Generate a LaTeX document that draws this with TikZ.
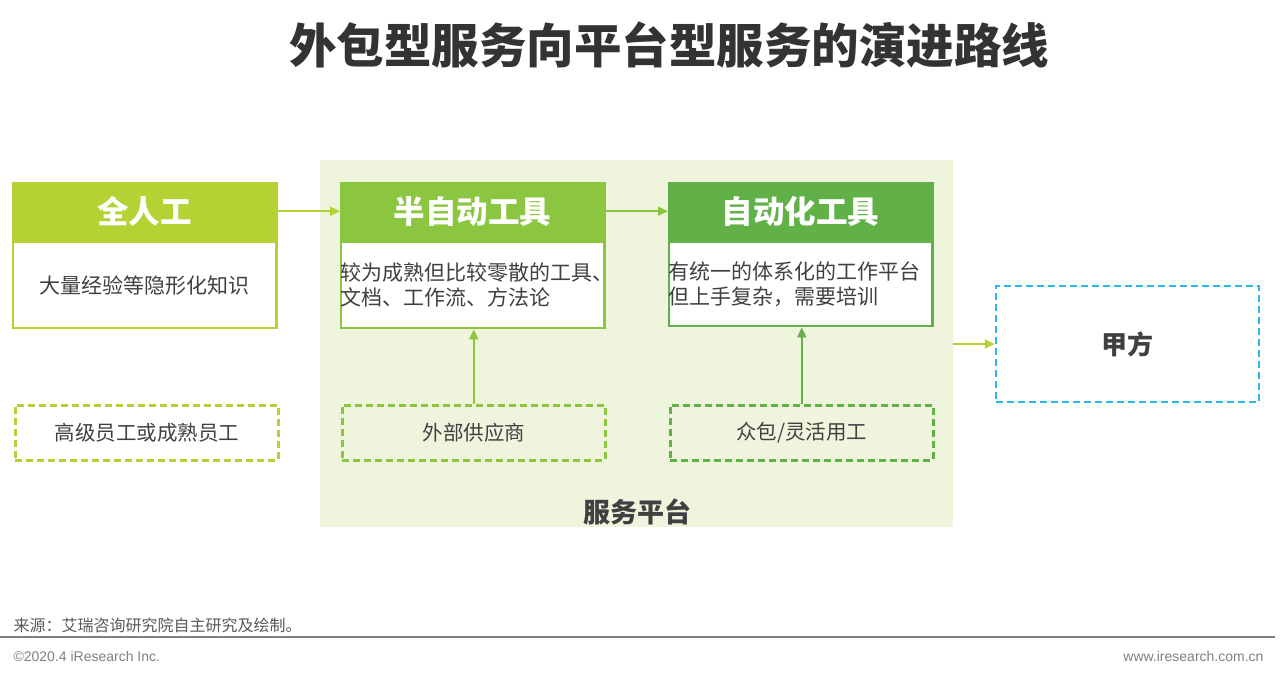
\documentclass[tikz,border=0pt]{standalone}
\usepackage{fontspec}
\setmainfont{Noto Sans CJK SC}
\newfontfamily\latinfont{Liberation Sans}
\usetikzlibrary{arrows.meta, positioning}
\definecolor{lime}{HTML}{B3D234}
\definecolor{leaf}{HTML}{8CC540}
\definecolor{grass}{HTML}{62B148}
\definecolor{platbg}{HTML}{EFF5DD}
\definecolor{sky}{HTML}{2CB8E5}
\definecolor{ink}{HTML}{404040}
\definecolor{titleink}{HTML}{333333}
\definecolor{srcgray}{HTML}{595959}
\definecolor{footgray}{HTML}{7F7F7F}

\begin{document}
\begin{tikzpicture}[
  x=1pt, y=-1pt,
  head/.style={fill=#1, draw=#1, minimum width=265pt, minimum height=58pt,
               inner sep=0pt, font=\fontsize{31.5}{34}\selectfont\bfseries, text=white},
  body/.style={draw=#1, line width=2.5pt, fill=white, minimum width=263.5pt,
               minimum height=86pt, inner sep=0pt,
               font=\fontsize{21}{25}\selectfont, text=ink, align=center},
  bodyleft/.style={body=#1, text width=263.5pt, align=left},
  pool/.style={draw=#1, line width=2.5pt, dash pattern=on 7pt off 4pt,
               minimum width=263pt, minimum height=55pt, inner sep=0pt,
               font=\fontsize{20.5}{24}\selectfont, text=ink},
  arr/.style={-{Triangle[length=10pt, width=9pt]}, draw=#1, line width=1.8pt}
]
  \useasboundingbox (0,0) rectangle (1280,680);

  % Title
  \node[font=\fontsize{47.5}{50}\selectfont\bfseries, text=titleink] (title) at (669,45)
    {外包型服务向平台型服务的演进路线};

  % Service platform
  \node[fill=platbg, minimum width=633pt, minimum height=367pt, inner sep=0pt]
    (plat) at (636.5,343.5) {};
  \node[font=\fontsize{27}{30}\selectfont\bfseries, text=ink] (platlbl) at (637,512)
    {服务平台};

  % Stages
  \node[head=lime, anchor=north west] (manual) at (12,182) {全人工};
  \node[body=lime, below=0.5pt of manual] (manualtxt) {大量经验等隐形化知识};
  \node[head=leaf, anchor=north west] (semi) at (340,182) {半自动工具};
  \node[bodyleft=leaf, below=0.5pt of semi] (semitxt)
    {较为成熟但比较零散的工具、\\文档、工作流、方法论};
  \node[head=grass, anchor=north west] (auto) at (668,182) {自动化工具};
  \node[bodyleft=grass, below=0.5pt of auto, minimum height=84pt] (autotxt)
    {有统一的体系化的工作平台\\但上手复杂，需要培训};

  % Workforce
  \node[pool=lime, anchor=north west] (staff) at (14,404) {高级员工或成熟员工};
  \node[pool=leaf, anchor=north west] (vendor) at (341,404) {外部供应商};
  \node[pool=grass, anchor=north west] (crowd) at (669,404) {众包/灵活用工};

  % Client
  \node[draw=sky, line width=2.5pt, dash pattern=on 7pt off 4pt,
        minimum width=263pt, minimum height=116pt,
        font=\fontsize{26}{28}\selectfont\bfseries, text=ink]
    (client) at (1127.5,344) {甲方};

  \draw[arr=lime] (manual.east) -- (semi.west);
  \draw[arr=leaf] (semi.east) -- (auto.west);
  \draw[arr=leaf] (vendor.north) -- (vendor.north |- semitxt.south);
  \draw[arr=grass] (crowd.north) -- (crowd.north |- autotxt.south);
  \draw[arr=lime] (plat.east |- client.west) -- (client.west);

  % Footer
  \node[anchor=base west, font=\fontsize{16}{18}\selectfont, text=srcgray] (src)
    at (10,631) {来源：艾瑞咨询研究院自主研究及绘制。};
  \draw[footgray, line width=2pt] (0,637) -- (1275,637);
  \node[anchor=base west, font=\latinfont\fontsize{14}{16}\selectfont, text=footgray]
    (copy) at (10,661) {©2020.4 iResearch Inc.};
  \node[anchor=base east, font=\latinfont\fontsize{14}{16}\selectfont, text=footgray]
    (site) at (1267,661) {www.iresearch.com.cn};
\end{tikzpicture}
\end{document}
